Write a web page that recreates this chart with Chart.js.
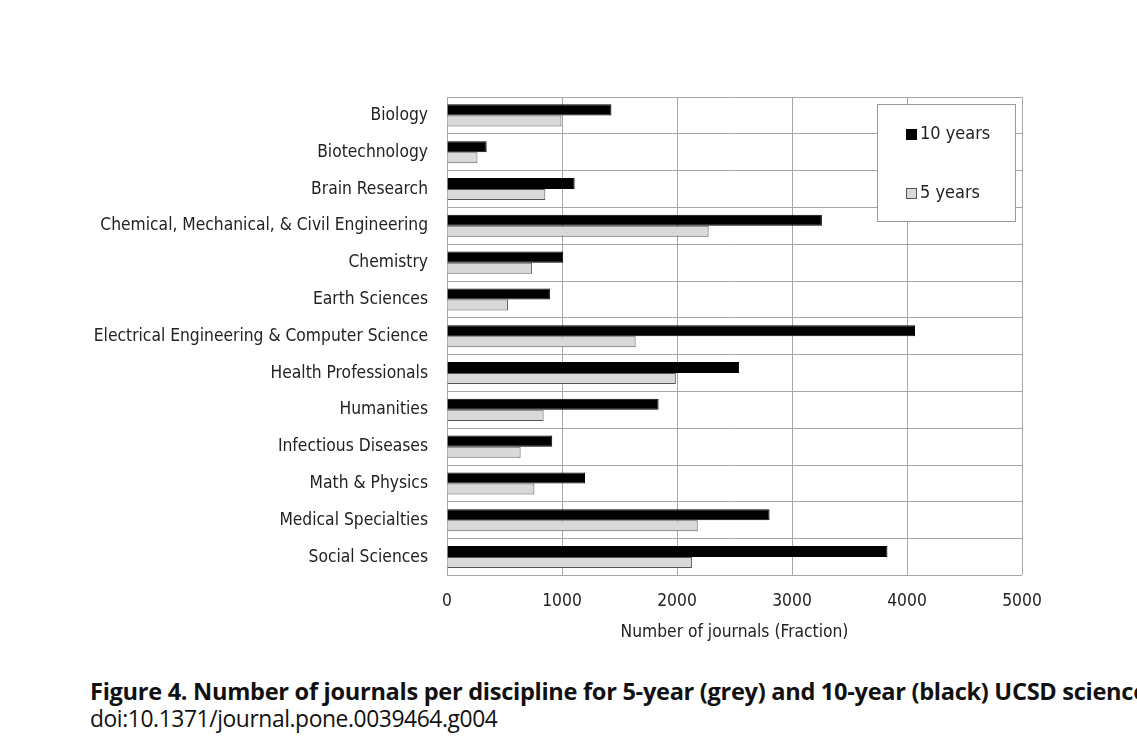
<!DOCTYPE html>
<html>
<head>
<meta charset="utf-8">
<script src="https://cdn.jsdelivr.net/npm/chart.js@4.4.1/dist/chart.umd.min.js"></script>
<style>
  body { margin: 0; background: #fff; width: 1137px; height: 738px; overflow: hidden; }
  #wrap { position: absolute; left: 0; top: 0; width: 1137px; height: 660px; }
  .caption { position: absolute; left: 90px; white-space: nowrap; color: #111; font-family: "Open Sans", "Noto Sans", sans-serif; }
  #cap1 { top: 675px; font-size: 23.6px; font-weight: bold; letter-spacing: -0.3px; }
  #cap2 { top: 703px; font-size: 22.8px; letter-spacing: -0.4px; }
</style>
</head>
<body>
<div id="wrap"><canvas id="chart"></canvas></div>
<div class="caption" id="cap1">Figure 4. Number of journals per discipline for 5-year (grey) and 10-year (black) UCSD science map.</div>
<div class="caption" id="cap2">doi:10.1371/journal.pone.0039464.g004</div>
<script>
const disciplines = [
    'Biology', 'Biotechnology', 'Brain Research',
    'Chemical, Mechanical, & Civil Engineering', 'Chemistry', 'Earth Sciences',
    'Electrical Engineering & Computer Science', 'Health Professionals', 'Humanities',
    'Infectious Diseases', 'Math & Physics', 'Medical Specialties', 'Social Sciences'
];
const tenYears = [1430, 345, 1110, 3260, 1010, 895, 4070, 2540, 1840, 915, 1200, 2805, 3830];
const fiveYears = [995, 265, 855, 2275, 740, 530, 1640, 1990, 840, 640, 760, 2180, 2130];
const xTicks = [0, 1000, 2000, 3000, 4000, 5000];

const labelFont = { family: '"DejaVu Sans Condensed", "Liberation Sans Narrow", sans-serif', size: 17.3 };

// legend box drawn inside the plot, top right
const boxLegend = {
    id: 'boxLegend',
    afterDraw(chart) {
        const { ctx, chartArea } = chart;
        const w = 138, h = 117;
        const x = chartArea.right - w - 7, y = chartArea.top + 7;
        ctx.save();
        ctx.fillStyle = '#fff';
        ctx.fillRect(x, y, w, h);
        ctx.strokeStyle = '#999';
        ctx.lineWidth = 1;
        ctx.strokeRect(x + 0.5, y + 0.5, w, h);
        ctx.font = '18px ' + labelFont.family;
        ctx.textBaseline = 'middle';
        chart.data.datasets.forEach((ds, i) => {
            const cy = y + 30 + i * 59;
            ctx.fillStyle = ds.backgroundColor;
            ctx.fillRect(x + 29, cy - 5, 11, 11);
            ctx.strokeStyle = ds.borderColor;
            ctx.strokeRect(x + 29.5, cy - 4.5, 10, 10);
            ctx.fillStyle = '#222';
            ctx.fillText(ds.label, x + 43, cy);
        });
        ctx.restore();
    }
};

new Chart(document.getElementById('chart'), {
    type: 'bar',
    data: {
        labels: disciplines,
        datasets: [
            { label: '10 years', data: tenYears, backgroundColor: '#000', borderColor: '#000', borderWidth: 1 },
            { label: '5 years', data: fiveYears, backgroundColor: '#d9d9d9', borderColor: '#555', borderWidth: 1 }
        ]
    },
    options: {
        indexAxis: 'y',
        responsive: true,
        maintainAspectRatio: false,
        animation: false,
        layout: { padding: { top: 97, right: 115, left: 0, bottom: 16 } },
        datasets: { bar: { categoryPercentage: 0.6, barPercentage: 1 } },
        plugins: { legend: { display: false }, tooltip: { enabled: false } },
        scales: {
            x: {
                min: 0, max: 5000,
                afterBuildTicks: scale => { scale.ticks = xTicks.map(v => ({ value: v })); },
                grid: { color: '#a6a6a6', drawTicks: false },
                border: { display: false },
                ticks: { color: '#222', font: labelFont, padding: 16, callback: v => String(v) },
                title: { display: true, text: 'Number of journals (Fraction)', color: '#222', font: labelFont, padding: { top: -6, bottom: 1 } }
            },
            y: {
                afterFit: scale => { scale.width = 447; },
                grid: { color: '#a6a6a6', drawTicks: false, offset: true },
                border: { display: false },
                ticks: { color: '#222', font: labelFont, padding: 19 }
            }
        }
    },
    plugins: [boxLegend]
});
</script>
</body>
</html>
